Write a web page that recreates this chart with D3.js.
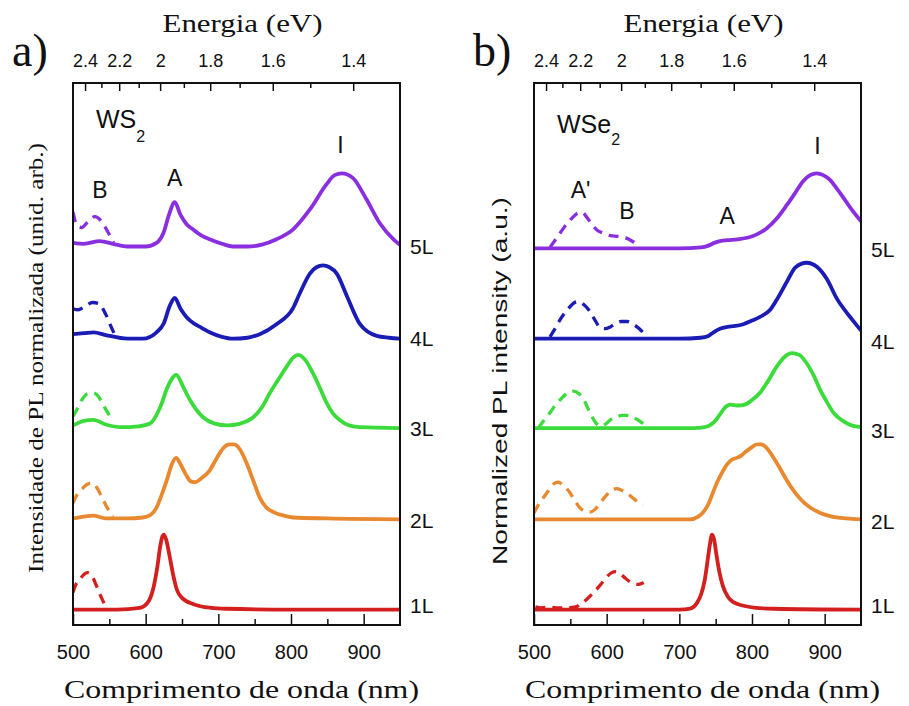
<!DOCTYPE html>
<html>
<head>
<meta charset="utf-8">
<script src="https://cdn.jsdelivr.net/npm/d3@7/dist/d3.min.js"></script>
<style>
  html, body { margin: 0; padding: 0; background: #fff; }
  svg { display: block; }
</style>
</head>
<body>
<svg id="fig" width="909" height="706"></svg>
<script>
// ---- Data: PL spectra [wavelength (nm), normalized intensity above the layer baseline] ----
const layers = ["1L", "2L", "3L", "4L", "5L"];
const wavelengthTicks = [500, 600, 700, 800, 900];
const wavelengthMinorTicks = [550, 650, 750, 850];
const energyTicks = [2.4, 2.2, 2.0, 1.8, 1.6, 1.4];
const energyMinorTicks = [2.3, 2.1, 1.9, 1.7, 1.5];

// vertical stacking of the layers (intensity units)
const ws2Offsets = [0.17, 1.18, 2.2, 3.2, 4.21];
const wse2Offsets = [0.17, 1.17, 2.18, 3.17, 4.17];

// WS2 — solid: measured spectra; dashed: magnified B region
const ws2_1L = [[500,0],[560,0],[592,0.02],[603,0.08],[610,0.22],[616,0.47],[620,0.70],[623,0.81],[625,0.83],[628,0.78],[633,0.59],[638,0.38],[643,0.22],[650,0.13],[666,0.06],[690,0.02],[711,0.01],[800,0],[950,0]];
const ws2_2L = [[500,0],[515,0.02],[528,0.03],[545,0],[575,0],[596,0.01],[607,0.04],[615,0.12],[622,0.26],[629,0.42],[636,0.60],[642,0.67],[648,0.60],[655,0.49],[662,0.41],[668,0.40],[676,0.44],[688,0.53],[698,0.67],[707,0.78],[715,0.82],[722,0.82],[730,0.76],[739,0.61],[748,0.42],[757,0.23],[766,0.12],[776,0.07],[790,0.03],[803,0.01],[850,0],[950,-0.01]];
const ws2_3L = [[500,0.01],[515,0.06],[528,0.07],[545,0.02],[565,-0.01],[590,0],[606,0.03],[620,0.21],[630,0.43],[642,0.57],[652,0.43],[661,0.29],[670,0.18],[679,0.10],[695,0.03],[712,0.01],[730,0.03],[748,0.10],[760,0.21],[771,0.37],[782,0.51],[794,0.66],[803,0.76],[810,0.79],[820,0.73],[830,0.59],[840,0.42],[849,0.26],[858,0.14],[867,0.07],[880,0.01],[895,-0.01],[950,-0.02]];
const ws2_4L = [[500,0.02],[515,0.03],[528,0.04],[545,0.01],[575,-0.03],[596,-0.03],[615,0.04],[625,0.14],[633,0.33],[640,0.42],[648,0.30],[656,0.21],[666,0.14],[677,0.09],[688,0.04],[705,-0.01],[720,-0.03],[740,-0.02],[757,0.02],[780,0.13],[803,0.31],[812,0.47],[826,0.69],[835,0.76],[844,0.78],[853,0.76],[863,0.69],[877,0.44],[895,0.13],[918,0],[935,-0.02],[950,-0.03]];
const ws2_5L = [[500,0.02],[515,0.01],[537,0.04],[555,0.01],[575,-0.02],[600,-0.02],[615,0.02],[625,0.14],[632,0.33],[640,0.47],[648,0.33],[656,0.23],[665,0.17],[677,0.10],[688,0.06],[705,0.01],[720,-0.02],[740,-0.02],[760,0],[780,0.06],[803,0.17],[826,0.39],[849,0.67],[860,0.77],[870,0.79],[885,0.74],[904,0.50],[922,0.24],[941,0.06],[950,0]];

const ws2_1L_B = [[500,0.19],[504,0.28],[509,0.33],[515,0.39],[520,0.41],[527,0.36],[532,0.27],[536,0.19],[541,0.10],[546,0.02]];
const ws2_2L_B = [[500,0.17],[506,0.27],[513,0.33],[520,0.38],[527,0.39],[533,0.34],[540,0.23],[547,0.12],[555,0.02]];
const ws2_3L_B = [[500,0.11],[505,0.18],[512,0.29],[520,0.36],[528,0.37],[535,0.33],[542,0.23],[550,0.12]];
const ws2_4L_B = [[500,0.30],[507,0.29],[515,0.32],[527,0.37],[535,0.36],[545,0.24],[552,0.11],[557,0.02]];
const ws2_5L_B = [[500,0.36],[505,0.22],[512,0.19],[520,0.25],[530,0.31],[540,0.25],[548,0.14],[556,0.02]];

// WSe2 — solid: measured spectra; dashed: magnified A'/B region
const wse2_1L = [[500,0],[700,0],[715,0.01],[724,0.07],[730,0.17],[735,0.33],[739,0.55],[742,0.72],[745,0.83],[748,0.77],[751,0.61],[755,0.42],[760,0.26],[767,0.14],[775,0.08],[790,0.04],[805,0.02],[830,0.01],[950,0]];
const wse2_2L = [[500,0],[715,0],[726,0.03],[733,0.08],[740,0.17],[746,0.29],[752,0.41],[759,0.52],[766,0.61],[772,0.66],[779,0.68],[786,0.71],[793,0.76],[800,0.80],[807,0.83],[813,0.83],[820,0.79],[829,0.69],[838,0.57],[848,0.43],[857,0.32],[866,0.23],[880,0.13],[894,0.07],[910,0.03],[930,0.01],[950,0]];
const wse2_3L = [[500,0],[720,0],[735,0.01],[747,0.06],[755,0.14],[762,0.22],[770,0.26],[780,0.25],[790,0.26],[800,0.31],[811,0.39],[822,0.52],[834,0.68],[845,0.79],[855,0.83],[865,0.81],[875,0.72],[885,0.58],[894,0.42],[903,0.29],[912,0.17],[925,0.08],[937,0.03],[950,0.01]];
const wse2_4L = [[500,0],[700,0],[729,0.01],[740,0.03],[747,0.07],[756,0.11],[766,0.13],[777,0.14],[788,0.16],[800,0.20],[811,0.24],[825,0.32],[834,0.43],[848,0.63],[860,0.79],[875,0.84],[890,0.79],[903,0.66],[917,0.44],[933,0.26],[949,0.10],[950,0.09]];
const wse2_5L = [[500,0],[700,0],[730,0.01],[740,0.03],[748,0.06],[756,0.08],[766,0.09],[780,0.10],[795,0.12],[808,0.16],[820,0.22],[834,0.33],[848,0.48],[860,0.62],[870,0.74],[880,0.81],[889,0.83],[898,0.81],[907,0.76],[916,0.67],[925,0.57],[937,0.43],[950,0.30]];

const wse2_1L_B = [[502,0.03],[510,0.02],[520,0.03],[530,0.02],[545,0.02],[557,0.03],[564,0.06],[572,0.11],[582,0.19],[592,0.28],[601,0.37],[607,0.41],[612,0.42],[618,0.40],[624,0.36],[630,0.32],[637,0.29],[644,0.28],[651,0.30]];
const wse2_2L_B = [[500,0.07],[506,0.16],[513,0.24],[520,0.32],[527,0.39],[533,0.41],[540,0.38],[548,0.31],[556,0.21],[563,0.13],[570,0.09],[577,0.08],[584,0.11],[591,0.18],[600,0.27],[608,0.33],[614,0.34],[621,0.32],[628,0.29],[637,0.23],[645,0.18],[650,0.16]];
const wse2_3L_B = [[506,0],[514,0.09],[522,0.17],[530,0.26],[538,0.33],[546,0.39],[554,0.41],[562,0.38],[570,0.29],[577,0.17],[584,0.07],[591,0.02],[598,0.04],[605,0.09],[613,0.12],[621,0.14],[628,0.14],[636,0.12],[645,0.08],[653,0.03]];
const wse2_4L_B = [[522,0.02],[529,0.11],[536,0.21],[546,0.32],[556,0.40],[561,0.41],[568,0.38],[577,0.30],[585,0.19],[591,0.12],[598,0.11],[605,0.13],[613,0.17],[620,0.19],[628,0.19],[636,0.16],[645,0.11],[653,0.04]];
const wse2_5L_B = [[522,0.01],[529,0.09],[536,0.17],[545,0.27],[553,0.34],[560,0.39],[566,0.40],[573,0.34],[580,0.26],[587,0.20],[595,0.17],[605,0.14],[617,0.13],[628,0.11],[637,0.07],[646,0.03]];

// peak annotations [text, wavelength, intensity position in the 5L lane]
const ws2Peaks = [["B", 537, 0.52], ["A", 640, 0.65], ["I", 868, 1.02]];
const wse2Peaks = [["A'", 564, 0.56], ["B", 628, 0.33], ["A", 766, 0.27], ["I", 890, 1.04]];

// ---- Styles / layout ----
const layerColors = ["#d41f1f", "#e8892f", "#3cdb3c", "#1b1bb6", "#8a2fe0"];
const SERIF = "'Liberation Serif', 'Times New Roman', serif";
const SANS = "'Liberation Sans', Arial, sans-serif";
const HC = 1239.84; // eV·nm

const svg = d3.select("#fig");
const plotTop = 83, plotBottom = 625;

const panels = [
  { id: "a", left: 73, right: 400, letter: "a)", material: ["WS", "2"],
    solid: [ws2_1L, ws2_2L, ws2_3L, ws2_4L, ws2_5L],
    dashed: [ws2_1L_B, ws2_2L_B, ws2_3L_B, ws2_4L_B, ws2_5L_B],
    offsets: ws2Offsets, peaks: ws2Peaks,
    ylabel: "Intensidade de PL normalizada  (unid. arb.)", ylabelFont: SERIF, ylabelSize: 22,
    ylabelX: 35, ylabelY: 358, ylabelLen: 430 },
  { id: "b", left: 534, right: 861, letter: "b)", material: ["WSe", "2"],
    solid: [wse2_1L, wse2_2L, wse2_3L, wse2_4L, wse2_5L],
    dashed: [wse2_1L_B, wse2_2L_B, wse2_3L_B, wse2_4L_B, wse2_5L_B],
    offsets: wse2Offsets, peaks: wse2Peaks,
    ylabel: "Normalized PL intensity (a.u.)", ylabelFont: SANS, ylabelSize: 21,
    ylabelX: 499, ylabelY: 381, ylabelLen: 368 }
];

const y = d3.scaleLinear().domain([0, 6]).range([plotBottom, plotTop]);
const labelNudge = [3, 10, 10, 10, 9];

panels.forEach(p => {
  const x = d3.scaleLinear().domain([500, 950]).range([p.left, p.right]);
  const g = svg.append("g");

  const clipId = "clip-" + p.id;
  svg.append("clipPath").attr("id", clipId)
    .append("rect").attr("x", p.left).attr("y", plotTop)
    .attr("width", p.right - p.left).attr("height", plotBottom - plotTop);

  // bottom wavelength axis (ticks pointing inward)
  const axB = g.append("g").attr("transform", `translate(0,${plotBottom})`)
    .call(d3.axisBottom(x).tickValues(wavelengthTicks).tickSize(-11).tickPadding(20).tickFormat(d3.format("d")));
  const axBm = g.append("g").attr("transform", `translate(0,${plotBottom})`)
    .call(d3.axisBottom(x).tickValues(wavelengthMinorTicks).tickSize(-6).tickFormat(""));

  // top energy axis: E = hc / λ
  const axT = g.append("g").attr("transform", `translate(0,${plotTop})`)
    .call(d3.axisTop(x).tickValues(energyTicks.map(e => HC / e)).tickSize(-8).tickPadding(16)
      .tickFormat(l => d3.format("")(+(HC / l).toFixed(1))));
  const axTm = g.append("g").attr("transform", `translate(0,${plotTop})`)
    .call(d3.axisTop(x).tickValues(energyMinorTicks.map(e => HC / e)).tickSize(-5).tickFormat(""));

  [axB, axBm, axT, axTm].forEach(a => {
    a.select(".domain").remove();
    a.selectAll(".tick line").attr("stroke", "#111").attr("stroke-width", 1.5);
  });
  axB.selectAll(".tick text").attr("font-family", SANS).attr("font-size", 20).attr("fill", "#111");
  axT.selectAll(".tick text").attr("font-family", SANS).attr("font-size", 18).attr("fill", "#111");

  // spectra
  const plot = g.append("g").attr("clip-path", `url(#${clipId})`);
  layers.forEach((name, i) => {
    const line = d3.line()
      .x(d => x(d[0]))
      .y(d => y(d[1] + p.offsets[i]))
      .curve(d3.curveMonotoneX);
    plot.append("path").datum(p.dashed[i])
      .attr("d", line).attr("fill", "none")
      .attr("stroke", layerColors[i]).attr("stroke-width", 3.3)
      .attr("stroke-dasharray", "10,7").attr("stroke-linecap", "butt");
    plot.append("path").datum(p.solid[i])
      .attr("d", line).attr("fill", "none")
      .attr("stroke", layerColors[i]).attr("stroke-width", 3.8)
      .attr("stroke-linejoin", "round");

    // layer labels right of the frame
    g.append("text")
      .attr("x", p.right + 10).attr("y", y(p.offsets[i]) + labelNudge[i])
      .attr("font-family", SANS).attr("font-size", 21).attr("fill", "#111")
      .text(name);
  });

  // frame
  g.append("rect").attr("x", p.left).attr("y", plotTop)
    .attr("width", p.right - p.left).attr("height", plotBottom - plotTop)
    .attr("fill", "none").attr("stroke", "#111").attr("stroke-width", 2);

  // peak labels
  p.peaks.forEach(([t, l, v]) => {
    g.append("text").attr("x", x(l)).attr("y", y(v + p.offsets[4]))
      .attr("text-anchor", "middle").attr("font-family", SANS)
      .attr("font-size", 23).attr("fill", "#111").text(t);
  });

  // material name with subscript
  const mt = g.append("text").attr("x", p.left + 23).attr("y", p.id === "a" ? 128 : 133)
    .attr("font-family", SANS).attr("font-size", 25).attr("fill", "#111");
  mt.append("tspan").text(p.material[0]);
  mt.append("tspan").attr("font-size", 16).attr("dy", p.id === "a" ? 14 : 12).text(p.material[1]);

  // axis titles
  const cx = (p.left + p.right) / 2;
  g.append("text").attr("x", cx + 6).attr("y", 32).attr("text-anchor", "middle")
    .attr("font-family", SERIF).attr("font-size", 25).attr("fill", "#111")
    .attr("textLength", 160).attr("lengthAdjust", "spacingAndGlyphs")
    .text("Energia (eV)");
  g.append("text").attr("x", cx + 5).attr("y", 698).attr("text-anchor", "middle")
    .attr("font-family", SERIF).attr("font-size", 25).attr("fill", "#111")
    .attr("textLength", 355).attr("lengthAdjust", "spacingAndGlyphs")
    .text("Comprimento de onda (nm)");
  g.append("text")
    .attr("transform", `translate(${p.ylabelX},${p.ylabelY}) rotate(-90)`)
    .attr("text-anchor", "middle").attr("dominant-baseline", "central")
    .attr("font-family", p.ylabelFont).attr("font-size", p.ylabelSize).attr("fill", "#111")
    .attr("textLength", p.ylabelLen).attr("lengthAdjust", "spacingAndGlyphs")
    .text(p.ylabel);

  // panel letter
  g.append("text").attr("x", p.left - 61).attr("y", 66)
    .attr("font-family", SERIF).attr("font-size", 46).attr("fill", "#111")
    .text(p.letter);
});
</script>
</body>
</html>
